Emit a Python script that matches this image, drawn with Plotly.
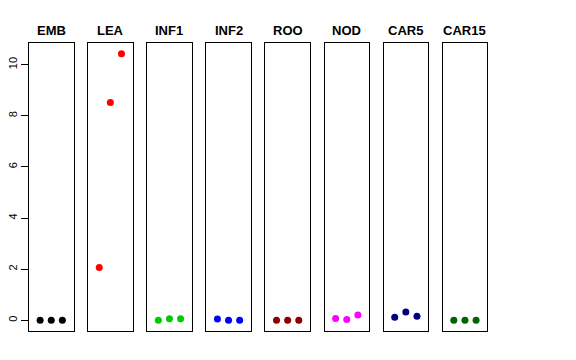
import plotly.graph_objects as go

categories = ["EMB", "LEA", "INF1", "INF2", "ROO", "NOD", "CAR5", "CAR15"]
colors = ["#000000", "#FF0000", "#00CD00", "#0000FF", "#8B0000", "#FF00FF", "#000080", "#006400"]
EMB = [0.0, 0.0, 0.0]
LEA = [2.07, 8.52, 10.43]
INF1 = [0.0, 0.06, 0.06]
INF2 = [0.05, 0.0, 0.0]
ROO = [0.0, 0.0, 0.0]
NOD = [0.07, 0.03, 0.21]
CAR5 = [0.12, 0.33, 0.16]
CAR15 = [0.0, 0.0, 0.0]
series = [EMB, LEA, INF1, INF2, ROO, NOD, CAR5, CAR15]
xpos = [1, 2, 3]
yticks = [0, 2, 4, 6, 8, 10]

W, H = 576, 360
allv = [v for s in series for v in s]
lo, hi = min(allv), max(allv)
pad = (hi - lo) * 0.04
yr = [lo - pad, hi + pad]

fig = go.Figure()
layout = dict(width=W, height=H, margin=dict(l=0, r=0, t=0, b=0, pad=0),
              autosize=False,
              paper_bgcolor="white", plot_bgcolor="white", showlegend=False,
              font=dict(family="Liberation Sans, Arial, sans-serif", color="black"))
annotations = []
for i, (cat, vals, col) in enumerate(zip(categories, series, colors)):
    n = "" if i == 0 else str(i + 1)
    left = 29 + 59.1 * i
    right = left + 44.5
    fig.add_trace(go.Scatter(x=xpos, y=vals, mode="markers",
                             marker=dict(color=col, size=7),
                             xaxis="x" + n, yaxis="y" + n, hoverinfo="y",
                             cliponaxis=False))
    layout["xaxis" + n] = dict(domain=[left / W, right / W], range=[0, 4],
                               showline=True, mirror=True, linecolor="black",
                               linewidth=1, showgrid=False, zeroline=False,
                               showticklabels=False, ticks="", anchor="y" + n,
                               automargin=False)
    ydict = dict(domain=[1 - 331 / H, 1 - 43 / H], range=yr,
                 showline=True, mirror=True, linecolor="black", linewidth=1,
                 showgrid=False, zeroline=False, anchor="x" + n,
                 automargin=False)
    if i == 0:
        ydict.update(tickvals=yticks, ticks="outside", ticklen=7, tickwidth=1,
                     tickcolor="black", tickangle=-90,
                     tickfont=dict(size=11, color="black"))
    else:
        ydict.update(showticklabels=False, ticks="")
    layout["yaxis" + n] = ydict
    annotations.append(dict(text="<b>" + cat + "</b>", x=(left + right) / 2 / W,
                            y=1 - 30 / H, xref="paper", yref="paper",
                            showarrow=False, xanchor="center", yanchor="middle",
                            font=dict(size=13, color="black")))
layout["annotations"] = annotations
fig.update_layout(**layout)
fig.write_html("out.html", config={"displayModeBar": False},
               post_script="document.body.style.margin='0';document.body.style.overflow='hidden';")
